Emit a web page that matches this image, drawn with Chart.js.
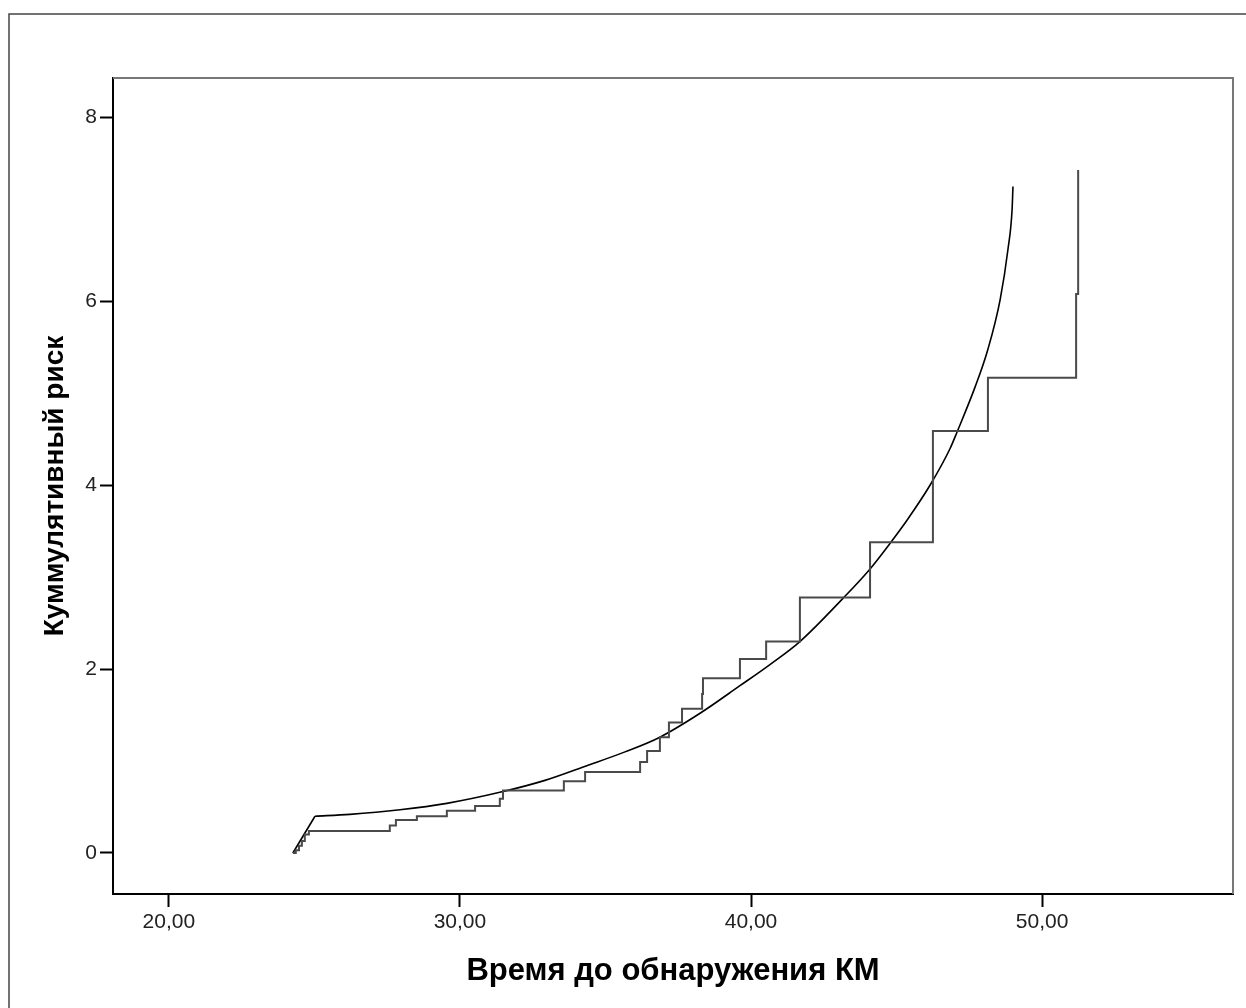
<!DOCTYPE html>
<html lang="ru">
<head>
    <meta charset="UTF-8">
    <title>Куммулятивный риск</title>
    <script src="https://cdn.jsdelivr.net/npm/chart.js"></script>
    <style>
        body { margin: 0; background: #fff; }
        canvas { display: block; }
    </style>
</head>
<body>
    <canvas id="riskChart" width="1246" height="1008"></canvas>

    <script>
        // Kaplan-Meier cumulative risk (step function)
        var stepTimes = [24.26, 24.36, 24.47, 24.57, 24.67, 24.81, 27.59, 27.80, 28.52, 29.55,
                         30.52, 31.37, 31.48, 33.57, 34.30, 36.19, 36.43, 36.87, 37.18, 37.63,
                         38.32, 38.35, 39.62, 40.52, 41.68, 44.09, 46.25, 48.14, 51.17, 51.24];
        var stepRisk  = [0.00, 0.03, 0.08, 0.13, 0.20, 0.24, 0.30, 0.36, 0.40, 0.46,
                         0.51, 0.59, 0.68, 0.78, 0.88, 0.99, 1.11, 1.26, 1.42, 1.57,
                         1.73, 1.90, 2.11, 2.30, 2.78, 3.38, 4.59, 5.17, 6.08, 7.43];

        // fitted curve (first segment is a straight lead-in)
        var fitTimes = [24.26, 25.02, 26.22, 27.94, 29.55, 31.37, 32.92, 34.36, 35.67, 36.87,
                        38.25, 39.62, 40.65, 41.68, 43.16, 44.09, 44.78, 45.36, 46.15, 46.84,
                        47.08, 47.70, 48.14, 48.56, 48.83, 48.97, 49.00];
        var fitRisk  = [0.00, 0.40, 0.42, 0.47, 0.54, 0.66, 0.79, 0.95, 1.10, 1.26,
                        1.52, 1.82, 2.05, 2.30, 2.77, 3.09, 3.37, 3.62, 4.00, 4.40,
                        4.58, 5.07, 5.48, 6.02, 6.57, 7.00, 7.25];

        var xTicks = [20, 30, 40, 50];
        var yTicks = [0, 2, 4, 6, 8];

        function toPoints(xs, ys) {
            return xs.map(function (x, i) { return { x: x, y: ys[i] }; });
        }

        var fitPoints = toPoints(fitTimes, fitRisk);

        // white background + plot frame + outer border
        var framePlugin = {
            id: 'frame',
            beforeDraw: function (chart) {
                var ctx = chart.ctx;
                ctx.save();
                ctx.fillStyle = '#fff';
                ctx.fillRect(0, 0, chart.width, chart.height);
                ctx.strokeStyle = '#444';
                ctx.lineWidth = 1.5;
                ctx.beginPath();
                ctx.moveTo(9, chart.height);
                ctx.lineTo(9, 14);
                ctx.lineTo(chart.width, 14);
                ctx.stroke();
                ctx.restore();
            },
            beforeDatasetsDraw: function (chart) {
                var a = chart.chartArea, ctx = chart.ctx;
                ctx.save();
                ctx.strokeStyle = '#777';
                ctx.lineWidth = 2;
                ctx.beginPath();
                ctx.moveTo(a.left, a.top);
                ctx.lineTo(a.right, a.top);
                ctx.lineTo(a.right, a.bottom);
                ctx.stroke();
                ctx.restore();
            }
        };

        var ctx = document.getElementById('riskChart').getContext('2d');
        new Chart(ctx, {
            type: 'line',
            data: {
                datasets: [{
                    label: 'Куммулятивный риск',
                    data: toPoints(stepTimes, stepRisk),
                    stepped: 'before',
                    borderColor: '#4a4a4a',
                    borderWidth: 2,
                    pointRadius: 0,
                    fill: false
                }, {
                    label: 'Подогнанная кривая (начало)',
                    data: fitPoints.slice(0, 2),
                    borderColor: '#000',
                    borderWidth: 1.6,
                    pointRadius: 0,
                    tension: 0,
                    fill: false
                }, {
                    label: 'Подогнанная кривая',
                    data: fitPoints.slice(1),
                    borderColor: '#000',
                    borderWidth: 1.6,
                    pointRadius: 0,
                    cubicInterpolationMode: 'monotone',
                    fill: false
                }]
            },
            options: {
                responsive: false,
                animation: false,
                devicePixelRatio: 1,
                layout: { padding: { left: 0, top: 78, right: 13, bottom: 0 } },
                plugins: {
                    legend: { display: false },
                    tooltip: { enabled: false }
                },
                scales: {
                    x: {
                        type: 'linear',
                        min: 18.08,
                        max: 56.56,
                        afterBuildTicks: function (scale) {
                            scale.ticks = xTicks.map(function (v) { return { value: v }; });
                        },
                        afterFit: function (scale) { scale.height = 114; },
                        ticks: {
                            padding: 3,
                            color: '#222',
                            font: { family: 'Liberation Sans, Arial', size: 21 },
                            callback: function (v) { return v.toFixed(2).replace('.', ','); }
                        },
                        grid: { drawOnChartArea: false, tickLength: 13, tickWidth: 2, tickColor: '#000' },
                        border: { color: '#000', width: 2 },
                        title: {
                            display: true,
                            text: 'Время до обнаружения КМ',
                            color: '#000',
                            font: { family: 'Liberation Sans, Arial', size: 31, weight: 'bold' },
                            padding: { top: 0, bottom: 18 }
                        }
                    },
                    y: {
                        type: 'linear',
                        min: -0.446,
                        max: 8.43,
                        afterBuildTicks: function (scale) {
                            scale.ticks = yTicks.map(function (v) { return { value: v }; });
                        },
                        afterFit: function (scale) { scale.width = 113; },
                        ticks: {
                            padding: 3,
                            color: '#222',
                            font: { family: 'Liberation Sans, Arial', size: 21 },
                            callback: function (v) { return String(v); }
                        },
                        grid: { drawOnChartArea: false, tickLength: 13, tickWidth: 2, tickColor: '#000' },
                        border: { color: '#000', width: 2 },
                        title: {
                            display: true,
                            text: 'Куммулятивный риск',
                            color: '#000',
                            font: { family: 'Liberation Sans, Arial', size: 28, weight: 'bold' },
                            padding: { top: 38, bottom: 0 }
                        }
                    }
                }
            },
            plugins: [framePlugin]
        });
    </script>
</body>
</html>
